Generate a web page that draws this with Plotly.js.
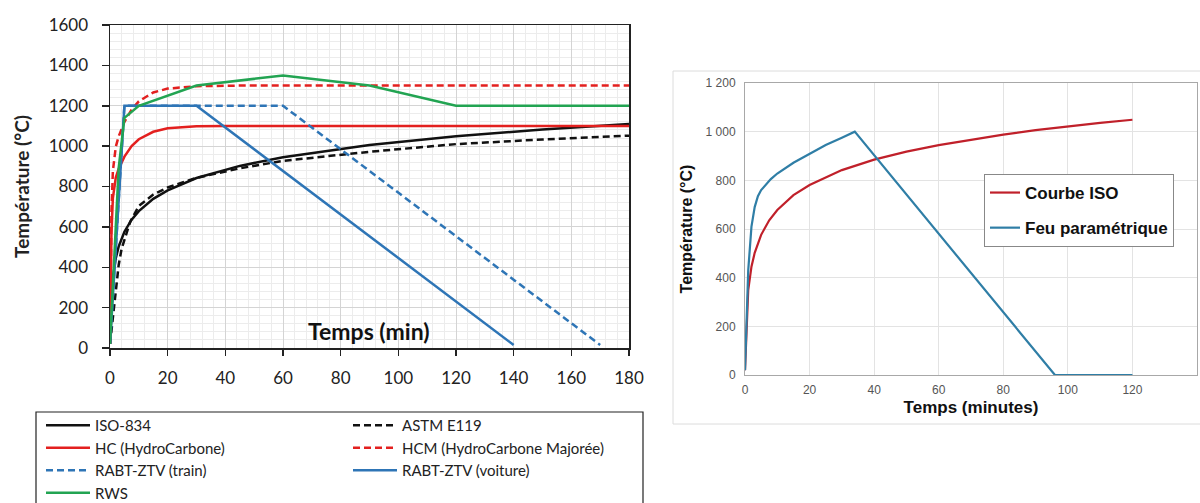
<!DOCTYPE html>
<html>
<head>
<meta charset="utf-8">
<script src="https://cdn.plot.ly/plotly-3.0.1.min.js"></script>
<style>html,body{margin:0;padding:0;background:#fff;}#chart{width:1200px;height:503px;}</style>
</head>
<body>
<div id="chart"></div>
<script>
// ---- Left chart data (time in min, temperature in °C) ----
const isoT   = [0, 1, 2, 3, 5, 7.5, 10, 15, 20, 30, 45, 60, 90, 120, 150, 180];
const isoV   = [20, 349, 445, 502, 576, 636, 678, 739, 781, 842, 902, 945, 1006, 1049, 1082, 1110];
const astmT  = [0, 1, 2, 3, 4, 5, 7, 10, 15, 20, 30, 45, 60, 90, 120, 150, 180];
const astmV  = [20, 140, 290, 410, 490, 538, 625, 704, 760, 795, 843, 890, 927, 972, 1010, 1033, 1052];
const hcT    = [0, 0.5, 1, 2, 3, 5, 7.5, 10, 15, 20, 30, 40, 180];
const hcV    = [20, 569, 743, 844, 887, 948, 1000, 1034, 1071, 1088, 1098, 1100, 1100];
const hcmT   = [0, 0.5, 1, 2, 3, 5, 7.5, 10, 15, 20, 30, 45, 180];
const hcmV   = [20, 670, 877, 996, 1048, 1120, 1181, 1222, 1266, 1285, 1297, 1300, 1300];
const trainT = [0, 5, 60, 170];
const trainV = [20, 1200, 1200, 15];
const carT   = [0, 5, 30, 140];
const carV   = [20, 1200, 1200, 15];
const rwsT   = [0, 3, 5, 10, 30, 60, 90, 120, 180];
const rwsV   = [20, 890, 1140, 1200, 1300, 1350, 1300, 1200, 1200];
const leftNames = ["ISO-834", "ASTM E119", "HC (HydroCarbone)", "HCM (HydroCarbone Majorée)",
                   "RABT-ZTV (train)", "RABT-ZTV (voiture)", "RWS"];
const leftAxisTitleY = "Température (°C)";
const leftAxisTitleX = "Temps (min)";

// ---- Right chart data ----
const isoRT  = [0, 1, 2, 3, 5, 7.5, 10, 15, 20, 30, 40, 50, 60, 70, 80, 90, 100, 110, 120];
const isoRV  = [20, 349, 445, 502, 576, 636, 678, 739, 781, 842, 885, 918, 945, 968, 988, 1006, 1022, 1036, 1049];
const paraT  = [0, 0.5, 1, 2, 3, 4, 5, 8, 10, 15, 20, 25, 30, 34, 96, 120];
const paraV  = [20, 250, 430, 610, 690, 735, 760, 805, 828, 872, 910, 945, 975, 1000, 0, 0];
const rightNames = ["Courbe ISO", "Feu paramétrique"];
const rightYTickVals = [0, 200, 400, 600, 800, 1000, 1200];
const rightYTickText = ["0", "200", "400", "600", "800", "1 000", "1 200"];
const rightAxisTitleX = "Temps (minutes)";
const rightAxisTitleY = "Température (°C)";

const W = 1200, H = 503;
const px = v => v / W, py = v => 1 - v / H;

const cBlack = "#111111", cRed = "#e3201f", cBlue = "#2e75b6", cGreen = "#22a452";
const lw = 2.5, dashS = "7px,4px";

function lt(x, y, name, color, dash, leg) {
  return {x: x, y: y, name: name, type: "scatter", mode: "lines", xaxis: "x", yaxis: "y",
          line: {color: color, width: lw, dash: dash || "solid"}, legend: leg, hoverinfo: "skip"};
}
const traces = [
  lt(isoT, isoV, leftNames[0], cBlack, null, "legend"),
  lt(astmT, astmV, leftNames[1], cBlack, dashS, "legend3"),
  lt(hcT, hcV, leftNames[2], cRed, null, "legend"),
  lt(hcmT, hcmV, leftNames[3], cRed, dashS, "legend3"),
  lt(trainT, trainV, leftNames[4], cBlue, dashS, "legend"),
  lt(carT, carV, leftNames[5], cBlue, null, "legend3"),
  lt(rwsT, rwsV, leftNames[6], cGreen, null, "legend"),
  {x: isoRT, y: isoRV, name: "<b>" + rightNames[0] + "</b>", type: "scatter", mode: "lines", xaxis: "x2", yaxis: "y2",
   line: {color: "#c0202a", width: 2.2}, legend: "legend2", legendgroup: "r1", hoverinfo: "skip"},
  {x: paraT, y: paraV, name: "<b>" + rightNames[1] + "</b>", type: "scatter", mode: "lines", xaxis: "x2", yaxis: "y2",
   line: {color: "#2f7ea6", width: 2.2}, legend: "legend2", legendgroup: "r2", hoverinfo: "skip"}
];

const leftFont = "Lato, 'Open Sans', sans-serif";
const rightFont = "'Liberation Sans', Arial, sans-serif";

const leftLegendBase = {
  yanchor: "top", y: py(409), xanchor: "left", orientation: "v",
  borderwidth: 0, bgcolor: "rgba(255,255,255,0)",
  font: {family: leftFont, size: 15, color: "#222222"},
  itemwidth: 44, traceorder: "normal", tracegroupgap: 0
};

const layout = {
  width: W, height: H,
  margin: {l: 0, r: 0, t: 0, b: 0, autoexpand: false},
  paper_bgcolor: "#ffffff", plot_bgcolor: "#ffffff",
  showlegend: true,
  xaxis: {
    domain: [px(110), px(629)], anchor: "y", range: [0, 180], dtick: 20, tick0: 0,
    showgrid: true, gridcolor: "#d4d4d4", gridwidth: 1,
    minor: {dtick: 4, showgrid: true, gridcolor: "#ececec", gridwidth: 1},
    showline: true, linecolor: "#222222", linewidth: 1.5, mirror: true,
    ticks: "outside", ticklen: 6, tickcolor: "#222222", tickwidth: 1.5,
    ticklabelstandoff: 8,
    tickfont: {family: leftFont, size: 17, color: "#222222"}, zeroline: false
  },
  yaxis: {
    domain: [py(348), py(25)], anchor: "x", range: [0, 1600], dtick: 200, tick0: 0,
    showgrid: true, gridcolor: "#d4d4d4", gridwidth: 1,
    minor: {dtick: 40, showgrid: true, gridcolor: "#ececec", gridwidth: 1},
    showline: true, linecolor: "#222222", linewidth: 1.5, mirror: true,
    ticks: "outside", ticklen: 7, tickcolor: "#222222", tickwidth: 1.5,
    ticklabelstandoff: 10,
    tickfont: {family: leftFont, size: 17, color: "#222222"}, zeroline: false,
    title: {text: "<b>" + leftAxisTitleY + "</b>", font: {family: leftFont, size: 19, color: "#222222"}, standoff: 14}
  },
  xaxis2: {
    domain: [px(745), px(1197)], anchor: "y2", range: [0, 140], dtick: 20, tick0: 0,
    showgrid: true, gridcolor: "#e3e3e3", gridwidth: 1,
    showline: true, linecolor: "#a8a8a8", linewidth: 1, mirror: true,
    ticks: "", ticklabelstandoff: 4,
    tickfont: {family: rightFont, size: 12, color: "#555555"}, zeroline: false,
    title: {text: "<b>" + rightAxisTitleX + "</b>", font: {family: rightFont, size: 17, color: "#111111"}, standoff: 4}
  },
  yaxis2: {
    domain: [py(375), py(83)], anchor: "x2", range: [0, 1200],
    tickmode: "array", tickvals: rightYTickVals, ticktext: rightYTickText,
    showgrid: true, gridcolor: "#e3e3e3", gridwidth: 1,
    showline: true, linecolor: "#a8a8a8", linewidth: 1, mirror: true,
    ticks: "", ticklabelstandoff: 6,
    tickfont: {family: rightFont, size: 12, color: "#555555"}, zeroline: false,
    title: {text: "<b>" + rightAxisTitleY + "</b>", font: {family: rightFont, size: 16, color: "#111111"}, standoff: 8}
  },
  legend: Object.assign({}, leftLegendBase, {x: px(41)}),
  legend3: Object.assign({}, leftLegendBase, {x: px(348)}),
  legend2: {
    x: px(984), xanchor: "left", y: py(174), yanchor: "top",
    orientation: "v",
    bordercolor: "#888888", borderwidth: 1, bgcolor: "#ffffff",
    font: {family: rightFont, size: 17, color: "#111111"},
    itemwidth: 30, traceorder: "grouped", tracegroupgap: 10
  },
  annotations: [
    {text: "<b>" + leftAxisTitleX + "</b>", xref: "x", yref: "y", x: 89.8, y: 86, showarrow: false,
     font: {family: leftFont, size: 23, color: "#111111"}, xanchor: "center", yanchor: "middle"}
  ],
  shapes: [
    {type: "rect", xref: "paper", yref: "paper", x0: px(673), x1: px(1210), y0: py(424), y1: py(71),
     line: {color: "#dcdcdc", width: 1}, fillcolor: "rgba(0,0,0,0)", layer: "below"},
    {type: "rect", xref: "paper", yref: "paper", x0: px(36), x1: px(643), y0: py(515), y1: py(412),
     line: {color: "#222222", width: 1.2}, fillcolor: "rgba(0,0,0,0)", layer: "below"}
  ]
};

Plotly.newPlot("chart", traces, layout, {displayModeBar: false, staticPlot: true});
</script>
</body>
</html>
